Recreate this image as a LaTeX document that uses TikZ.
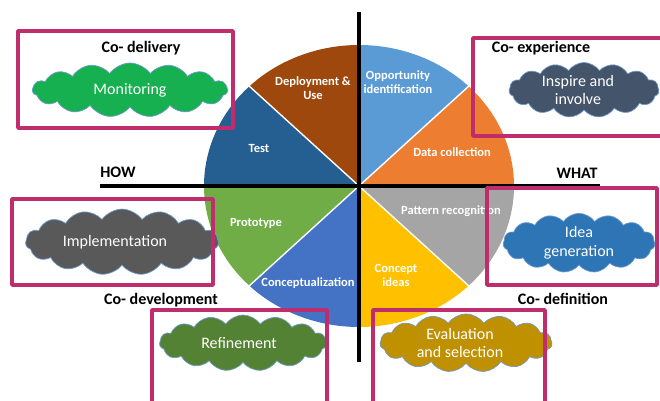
\documentclass[tikz,border=0pt]{standalone}
\usepackage{fontspec}
\setmainfont{Carlito}
\usetikzlibrary{shapes.symbols}
% slice colours
\definecolor{cdata}{HTML}{ED7D31}
\definecolor{copp}{HTML}{5B9BD5}
\definecolor{cdeploy}{HTML}{9E480E}
\definecolor{ctest}{HTML}{255E91}
\definecolor{cproto}{HTML}{70AD47}
\definecolor{cconcz}{HTML}{4472C4}
\definecolor{cideas}{HTML}{FFC000}
\definecolor{cpattern}{HTML}{A5A5A5}
% clouds and frames
\definecolor{cmonitor}{RGB}{22,176,80}
\definecolor{cinspire}{HTML}{44546A}
\definecolor{cimpl}{HTML}{595959}
\definecolor{crefine}{HTML}{548235}
\definecolor{cgen}{HTML}{2E75B6}
\definecolor{ceval}{HTML}{BF9000}
\definecolor{cedge}{RGB}{110,155,205}
\definecolor{cframe}{RGB}{192,45,108}
\begin{document}
\begin{tikzpicture}[x=1pt, y=1pt, line join=round, line cap=round,
	frame/.style={draw=cframe, line width=3.6pt},
	puff/.style={cloud, cloud puffs=15, cloud puff arc=110, draw=cedge, line width=0.7pt,
		text=white, align=center, inner sep=0pt, font=\fontsize{16}{18.5}\selectfont},
	slice/.style={text=white, align=center, font=\fontsize{12.5}{14}\selectfont\bfseries},
	head/.style={font=\fontsize{16}{18}\selectfont\bfseries}]
	\useasboundingbox (0,0) rectangle (660,400);
	\clip (0,0) rectangle (660,400);
	\def\rx{155} \def\ry{141}
	\coordinate (o) at (359,214);
	% pie
	\foreach \a/\c in {0/cdata,45/copp,90/cdeploy,135/ctest,180/cproto,225/cconcz,270/cideas,315/cpattern}
		\fill[\c] (o) -- ++({\rx*cos(\a)},{\ry*sin(\a)}) arc[start angle=\a, end angle=\a+45, x radius=\rx, y radius=\ry] -- cycle;
	\foreach \a in {45,135,225,315}
		\draw[white, line width=1.4pt] (o) -- ++({\rx*cos(\a)},{\ry*sin(\a)});
	\node[slice] (deploy) at (313,312) {Deployment \&\\Use};
	\node[slice] (opp) at (398,318) {Opportunity\\identification};
	\node[slice] (test) at (259,252) {Test};
	\node[slice] (data) at (452,248) {Data collection};
	\node[slice] (proto) at (256,177) {Prototype};
	\node[slice] (pattern) at (451,189) {Pattern recognition};
	\node[slice] (concz) at (308,117) {Conceptualization};
	\node[slice] (ideas) at (396,125) {Concept\\ideas};
	% axes
	\coordinate (vtop) at (359,388); \coordinate (vbot) at (359,38);
	\coordinate (hl) at (100,214); \coordinate (hr) at (600,214);
	\draw[line width=3.4pt, line cap=butt] (vtop) -- (vbot) (hl) -- (hr);
	\node[head] (how) at (118,228) {HOW};
	\node[head] (what) at (577,227) {WHAT};
	% clouds
	\node[puff, fill=cmonitor, minimum width=195, minimum height=54, aspect=2.4] (monitor) at (130,310) {Monitoring};
	\node[puff, fill=cinspire, minimum width=150, minimum height=55, aspect=2] (inspire) at (584,310) {\hspace*{-12pt}Inspire and\\\hspace*{-12pt}involve};
	\node[puff, fill=cimpl, minimum width=193, minimum height=53, aspect=2.4] (impl) at (122,158) {\hspace*{-14pt}Implementation};
	\node[puff, fill=crefine, minimum width=167, minimum height=56, aspect=2.2] (refine) at (243,57) {\hspace*{-8pt}Refinement};
	\node[puff, fill=cgen, minimum width=152, minimum height=57, aspect=2] (gen) at (579,157) {Idea\\generation};
	\node[puff, fill=ceval, minimum width=172, minimum height=57, aspect=2.2] (eval) at (466,57) {\hspace*{-12pt}Evaluation\\\hspace*{-12pt}and selection};
	% frames
	\draw[frame] (18,369) rectangle (233,272);
	\draw[frame] (473,362) rectangle (668,264);
	\draw[frame] (12,201) rectangle (213,115);
	\draw[frame] (152,90) rectangle (327,-10);
	\draw[frame] (487,212) rectangle (657,115);
	\draw[frame] (373,90) rectangle (545,-10);
	\node[head] (cdel) at (141,352) {Co- delivery};
	\node[head] (cexp) at (541,352) {Co- experience};
	\node[head] (cdev) at (161,100) {Co- development};
	\node[head] (cdef) at (563,101) {Co- definition};
\end{tikzpicture}
\end{document}
